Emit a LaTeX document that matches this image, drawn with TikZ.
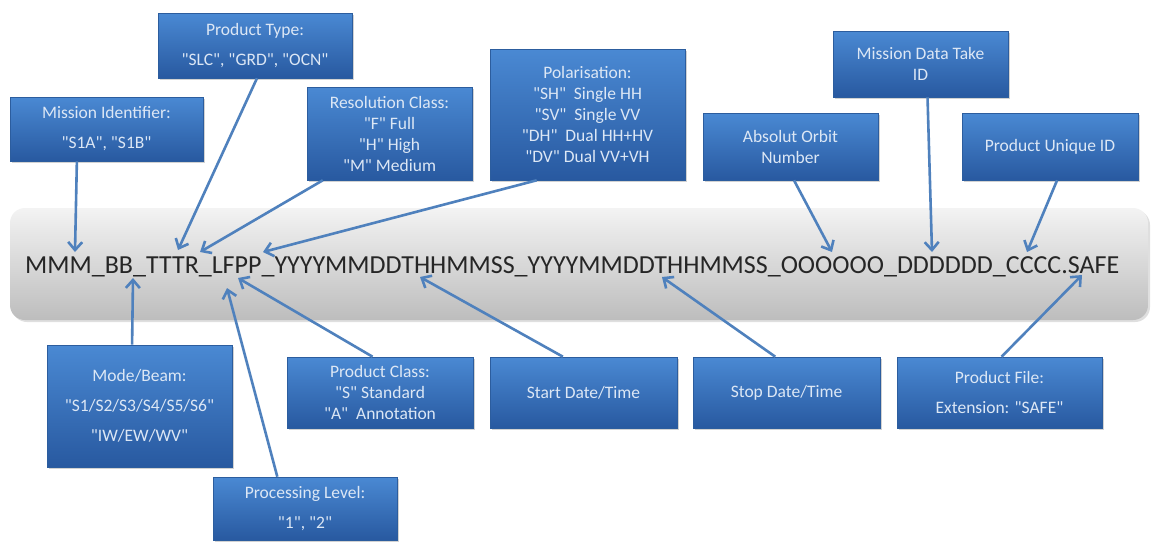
\documentclass[tikz,border=0pt]{standalone}
\usepackage{fontspec}
\setmainfont{Carlito}
\usetikzlibrary{arrows.meta,shadows,calc}
\newcommand{\dq}{\textquotedbl}
\definecolor{boxtop}{HTML}{4A89D3}
\definecolor{boxbot}{HTML}{2859A0}
\definecolor{boxedge}{HTML}{2C5D9E}
\definecolor{boxtxt}{HTML}{DCE7F5}
\definecolor{arrowc}{HTML}{4F81BD}
\definecolor{bartop}{HTML}{F3F3F3}
\definecolor{barbot}{HTML}{BDBDBD}
\begin{document}
\begin{tikzpicture}[x=1pt,y=-1pt,
  box/.style={draw=boxedge, line width=0.6pt, top color=boxtop, bottom color=boxbot,
    text=boxtxt, align=center, inner sep=2pt, font=\fontsize{17.5}{21}\selectfont,
    drop shadow={opacity=0.35, shadow xshift=2pt, shadow yshift=-2pt}},
  barbox/.style={draw=none, rounded corners=15pt, top color=bartop, bottom color=barbot,
    inner sep=0pt, drop shadow={opacity=0.25, shadow xshift=2pt, shadow yshift=-2pt}},
  arr/.style={draw=arrowc, line width=2.6pt, -{Straight Barb[length=8pt,width=14pt]}},
]
\useasboundingbox (0,0) rectangle (1151,550);
\fill[white] (0,0) rectangle (1151,550);

% grey bar with file name
\node[barbox, minimum width=1138pt, minimum height=112pt] (bar) at (579,264) {};
\node[anchor=base west, inner sep=0pt, text=black!85, font=\fontsize{26}{30}\selectfont] (fname) at (25,273)
  {MMM\_BB\_TTTR\_LFPP\_YYYYMMDDTHHMMSS\_YYYYMMDDTHHMMSS\_OOOOOO\_DDDDDD\_CCCC.SAFE};

% top boxes
\node[box, minimum width=193pt, minimum height=64pt] (mi) at (106.5,129)
  {Mission Identifier:\\[9pt]\dq S1A\dq, \dq S1B\dq};
\node[box, minimum width=194pt, minimum height=65pt] (ptype) at (255,45.5)
  {Product Type:\\[9pt]\dq SLC\dq, \dq GRD\dq, \dq OCN\dq};
\node[box, minimum width=165pt, minimum height=93pt] (rc) at (389.5,133.5)
  {Resolution Class:\\\dq F\dq\ Full\\\dq H\dq\ High\\\dq M\dq\ Medium};
\node[box, minimum width=195pt, minimum height=131pt] (pol) at (587.5,114.5)
  {Polarisation:\\\dq SH\dq~ Single HH\\\dq SV\dq~ Single VV\\\dq DH\dq~ Dual HH+HV\\\dq DV\dq\ Dual VV+VH};
\node[box, minimum width=175pt, minimum height=67pt] (orbit) at (790.5,146.5)
  {Absolut Orbit\\Number};
\node[box, minimum width=175pt, minimum height=66pt] (dt) at (920.5,64)
  {Mission Data Take\\ID};
\node[box, minimum width=176pt, minimum height=67pt] (puid) at (1050,146.5)
  {Product Unique ID};

% bottom boxes
\node[box, minimum width=185pt, minimum height=122pt] (mode) at (139.5,406)
  {Mode/Beam:\\[9pt]\dq S1/S2/S3/S4/S5/S6\dq\\[9pt]\dq IW/EW/WV\dq};
\node[box, minimum width=184pt, minimum height=63pt] (proc) at (305,508.5)
  {Processing Level:\\[9pt]\dq 1\dq, \dq 2\dq};
\node[box, minimum width=186pt, minimum height=71pt] (pclass) at (380,392.5)
  {Product Class:\\\dq S\dq\ Standard\\\dq A\dq~ Annotation};
\node[box, minimum width=187pt, minimum height=71pt] (start) at (583.5,392.5)
  {Start Date/Time};
\node[box, minimum width=187pt, minimum height=71pt] (stop) at (786.5,392.5)
  {Stop Date/Time};
\node[box, minimum width=205pt, minimum height=71pt] (pfile) at (999.5,392.5)
  {Product File:\\[9pt]Extension: \dq SAFE\dq};

% arrow tip points on the file name
\coordinate (t-mi) at (75,252);
\coordinate (t-pt) at (178,250);
\coordinate (t-rc) at (200,252);
\coordinate (t-pol) at (263,252);
\coordinate (t-orbit) at (832,252);
\coordinate (t-dt) at (932,252);
\coordinate (t-puid) at (1027,252);
\coordinate (t-mode) at (133,278);
\coordinate (t-proc) at (227,288);
\coordinate (t-pclass) at (238,278);
\coordinate (t-start) at (420,277);
\coordinate (t-stop) at (662,277);
\coordinate (t-pfile) at (1082,275);

% connectors
\draw[arr] ($(mi.south west)!0.347!(mi.south east)$) -- (t-mi);
\draw[arr] ($(ptype.south west)!0.51!(ptype.south east)$) -- (t-pt);
\draw[arr] ($(rc.south west)!0.097!(rc.south east)$) -- (t-rc);
\draw[arr] ($(pol.south west)!0.24!(pol.south east)$) -- (t-pol);
\draw[arr] ($(orbit.south west)!0.52!(orbit.south east)$) -- (t-orbit);
\draw[arr] ($(dt.south west)!0.54!(dt.south east)$) -- (t-dt);
\draw[arr] ($(puid.south west)!0.54!(puid.south east)$) -- (t-puid);
\draw[arr] ($(mode.north west)!0.46!(mode.north east)$) -- (t-mode);
\draw[arr] ($(proc.north west)!0.35!(proc.north east)$) -- (t-proc);
\draw[arr] ($(pclass.north west)!0.46!(pclass.north east)$) -- (t-pclass);
\draw[arr] ($(start.north west)!0.39!(start.north east)$) -- (t-start);
\draw[arr] ($(stop.north west)!0.44!(stop.north east)$) -- (t-stop);
\draw[arr] ($(pfile.north west)!0.51!(pfile.north east)$) -- (t-pfile);
\end{tikzpicture}
\end{document}
